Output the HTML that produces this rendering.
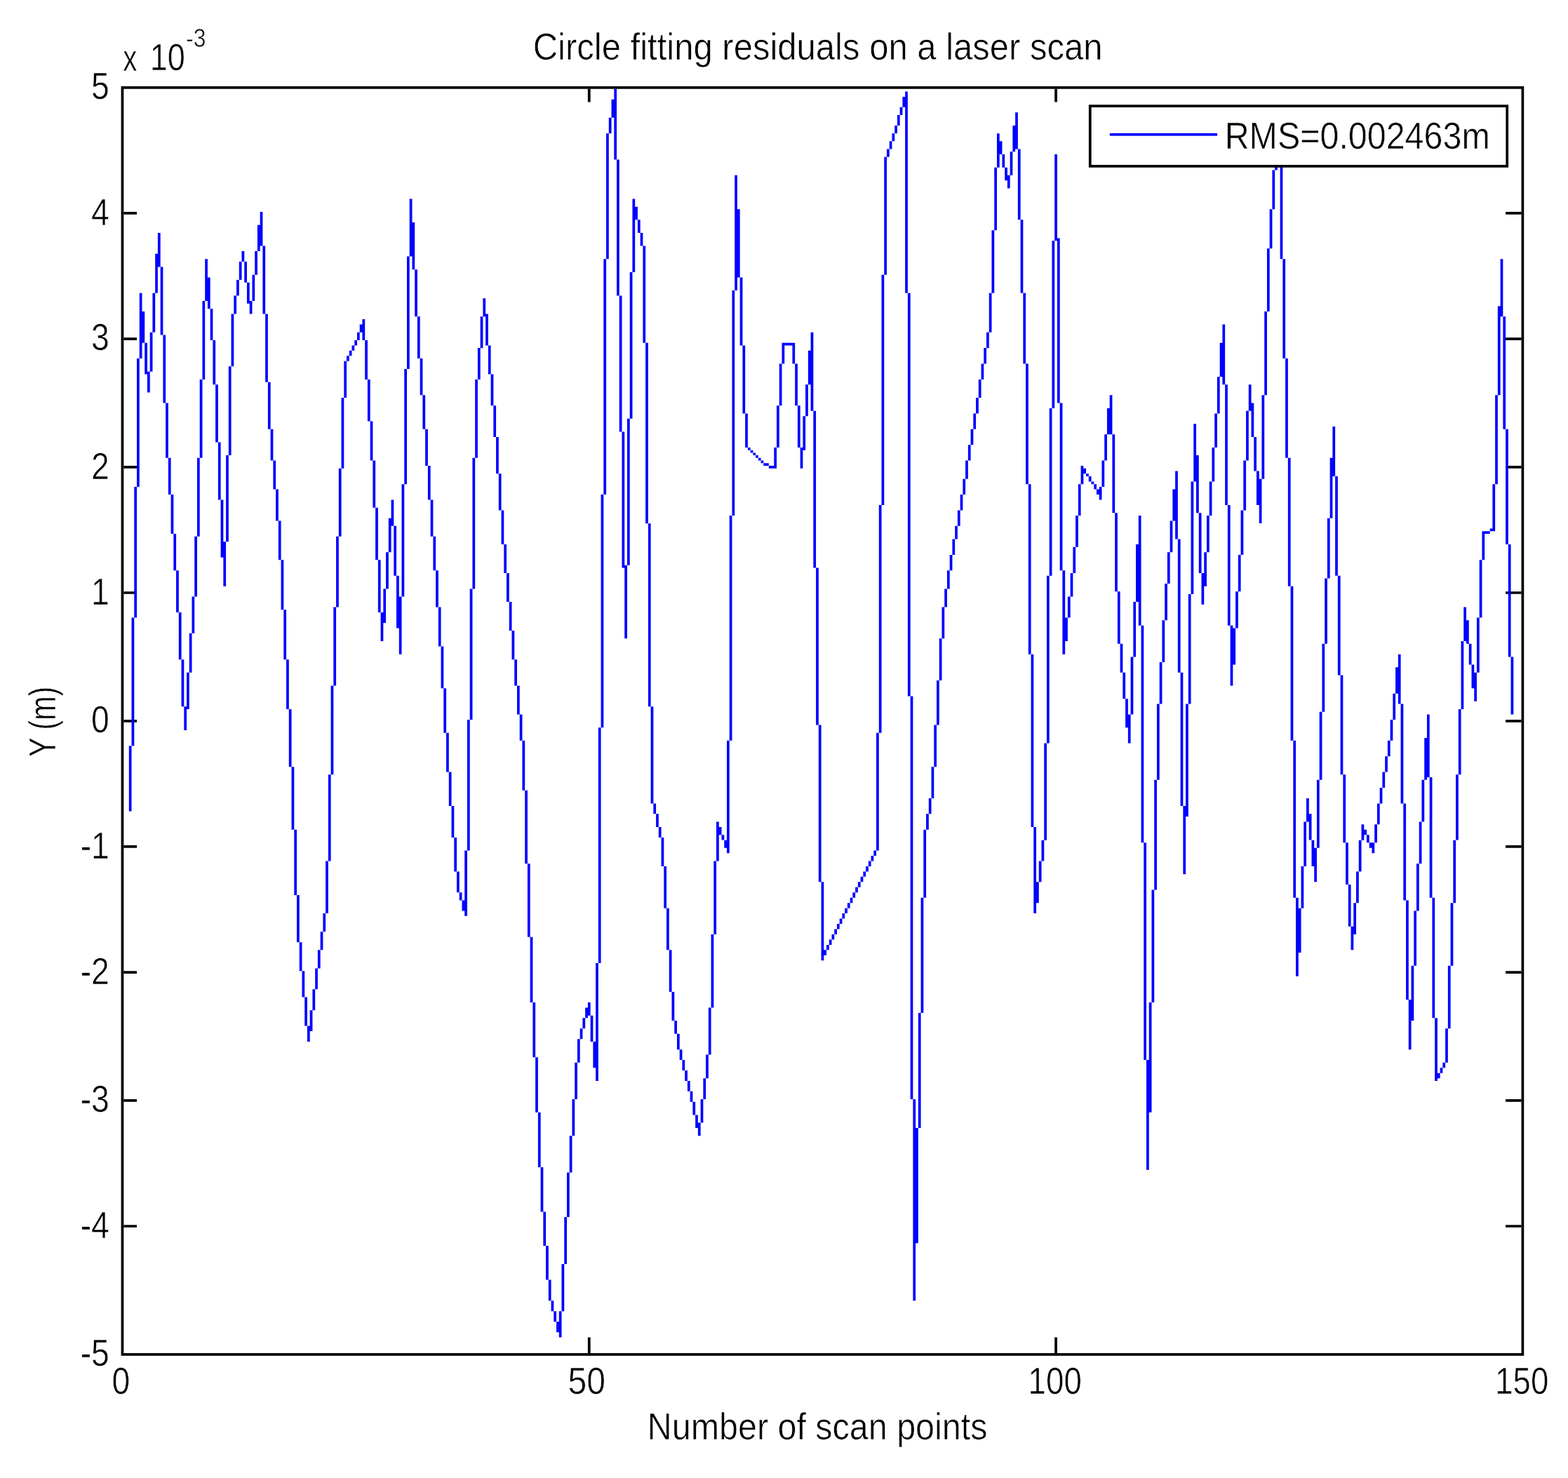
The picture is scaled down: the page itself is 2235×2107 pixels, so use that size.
<!DOCTYPE html>
<html lang="en">
<head>
<meta charset="utf-8">
<title>Circle fitting residuals on a laser scan</title>
<style>
html,body{margin:0;padding:0;background:#fff;}
body{width:2235px;height:2107px;overflow:hidden;}
svg{display:block;}
text{font-family:"Liberation Sans", sans-serif;fill:#000;stroke:#fff;stroke-width:0.6px;paint-order:fill stroke;}
</style>
</head>
<body>
<svg width="2235" height="2107" viewBox="0 0 2235 2107">
<rect width="2235" height="2107" fill="#fff"/>
<g id="plot">
<g id="axes" fill="#000">
<path fill-rule="evenodd" d="M172.58 122.98H2172.25V1932.71H172.58ZM176.32 126.72V1928.98H2168.51V126.72Z"/>
<path d="M837.89 126.72h3.74v18.66h-3.74zM837.89 1906.59h3.74v22.39h-3.74zM1503.2 126.72h3.74v18.66h-3.74zM1503.2 1906.59h3.74v22.39h-3.74zM176.32 302.09h18.69v3.73h-18.69zM2146.09 302.09h22.43v3.73h-22.43zM176.32 481.2h18.69v3.73h-18.69zM2146.09 481.2h22.43v3.73h-22.43zM176.32 664.04h18.69v3.73h-18.69zM2146.09 664.04h22.43v3.73h-22.43zM176.32 843.14h18.69v3.73h-18.69zM2146.09 843.14h22.43v3.73h-22.43zM176.32 1025.98h18.69v3.73h-18.69zM2146.09 1025.98h22.43v3.73h-22.43zM176.32 1205.09h18.69v3.73h-18.69zM2146.09 1205.09h22.43v3.73h-22.43zM176.32 1384.2h18.69v3.73h-18.69zM2146.09 1384.2h22.43v3.73h-22.43zM176.32 1567.04h18.69v3.73h-18.69zM2146.09 1567.04h22.43v3.73h-22.43zM176.32 1746.14h18.69v3.73h-18.69zM2146.09 1746.14h22.43v3.73h-22.43z"/>
</g>
<g id="series" fill="#00f">
<path d="M875.27 126.72h3.74v100.75h-3.74zM1290.15 130.45h3.74v287.32h-3.74zM1286.42 137.91h3.74v14.93h-3.74zM871.53 141.64h3.74v26.12h-3.74zM1282.68 152.84h3.74v11.19h-3.74zM1820.91 156.57h3.74v70.9h-3.74zM1447.14 160.3h3.74v52.24h-3.74zM1278.94 164.03h3.74v14.93h-3.74zM867.79 167.76h3.74v22.39h-3.74zM1275.2 178.96h3.74v11.19h-3.74zM1443.4 178.96h3.74v37.31h-3.74zM1817.17 186.42h3.74v55.97h-3.74zM1271.46 190.15h3.74v11.19h-3.74zM1420.97 190.15h3.74v48.51h-3.74zM864.06 190.15h3.74v179.11h-3.74zM1267.73 201.34h3.74v11.19h-3.74zM1424.71 201.34h3.74v18.66h-3.74zM1263.99 212.54h3.74v11.19h-3.74zM1450.87 212.54h3.74v100.75h-3.74zM1439.66 216.27h3.74v33.58h-3.74zM1428.45 220h3.74v18.66h-3.74zM1503.2 220h3.74v123.14h-3.74zM1260.25 223.73h3.74v167.91h-3.74zM1824.64 227.46h3.74v141.79h-3.74zM879.01 227.46h3.74v194.03h-3.74zM1432.19 238.66h3.74v18.66h-3.74zM1417.24 238.66h3.74v89.55h-3.74zM1813.43 242.39h3.74v55.97h-3.74zM1435.92 249.85h3.74v18.66h-3.74zM1047.2 249.85h3.74v164.18h-3.74zM583.73 283.43h3.74v82.09h-3.74zM901.43 283.43h3.74v104.48h-3.74zM905.17 294.63h3.74v18.66h-3.74zM1809.69 298.36h3.74v55.97h-3.74zM1050.94 298.36h3.74v97.02h-3.74zM370.68 302.09h3.74v48.51h-3.74zM908.91 313.29h3.74v18.66h-3.74zM1454.61 313.29h3.74v104.48h-3.74zM587.47 317.02h3.74v67.17h-3.74zM366.94 320.75h3.74v37.31h-3.74zM1413.5 328.21h3.74v89.55h-3.74zM912.65 331.94h3.74v18.66h-3.74zM224.91 331.94h3.74v48.51h-3.74zM1506.94 339.41h3.74v235.08h-3.74zM1499.46 343.14h3.74v238.81h-3.74zM374.42 350.6h3.74v97.02h-3.74zM916.38 350.6h3.74v138.06h-3.74zM1805.96 354.33h3.74v89.55h-3.74zM344.52 358.06h3.74v14.93h-3.74zM363.2 358.06h3.74v33.58h-3.74zM221.17 361.79h3.74v55.97h-3.74zM579.99 365.53h3.74v160.45h-3.74zM292.19 369.26h3.74v59.7h-3.74zM2138.61 369.26h3.74v82.09h-3.74zM1828.38 369.26h3.74v141.79h-3.74zM860.32 369.26h3.74v335.83h-3.74zM340.78 372.99h3.74v26.12h-3.74zM348.25 372.99h3.74v29.85h-3.74zM228.65 380.45h3.74v97.02h-3.74zM591.2 384.18h3.74v67.17h-3.74zM897.69 387.91h3.74v208.96h-3.74zM359.47 391.65h3.74v37.31h-3.74zM1256.51 391.65h3.74v328.36h-3.74zM295.93 395.38h3.74v44.78h-3.74zM1054.68 395.38h3.74v97.02h-3.74zM337.04 399.11h3.74v22.39h-3.74zM351.99 402.84h3.74v29.85h-3.74zM1043.47 414.03h3.74v320.9h-3.74zM217.43 417.76h3.74v55.97h-3.74zM1409.76 417.76h3.74v55.97h-3.74zM198.75 417.76h3.74v93.28h-3.74zM1458.35 417.76h3.74v100.75h-3.74zM1293.89 417.76h3.74v574.64h-3.74zM333.3 421.5h3.74v26.12h-3.74zM882.74 421.5h3.74v194.03h-3.74zM688.38 425.23h3.74v26.12h-3.74zM355.73 428.96h3.74v18.66h-3.74zM288.45 428.96h3.74v111.94h-3.74zM2134.87 436.42h3.74v126.87h-3.74zM299.66 440.15h3.74v44.78h-3.74zM202.48 443.88h3.74v44.78h-3.74zM1802.22 443.88h3.74v119.4h-3.74zM692.12 447.62h3.74v44.78h-3.74zM329.56 447.62h3.74v74.63h-3.74zM378.15 447.62h3.74v97.02h-3.74zM684.65 451.35h3.74v44.78h-3.74zM594.94 451.35h3.74v59.7h-3.74zM2142.35 451.35h3.74v160.45h-3.74zM516.45 455.08h3.74v29.85h-3.74zM512.71 462.54h3.74v11.19h-3.74zM1742.42 462.54h3.74v85.82h-3.74zM508.97 473.74h3.74v11.19h-3.74zM1406.02 473.74h3.74v22.39h-3.74zM213.7 473.74h3.74v55.97h-3.74zM1155.6 473.74h3.74v111.94h-3.74zM232.38 477.47h3.74v97.02h-3.74zM505.24 484.93h3.74v7.46h-3.74zM520.19 484.93h3.74v55.97h-3.74zM303.4 484.93h3.74v63.43h-3.74zM1118.22 488.66h11.21v3.73h-11.21zM1114.48 488.66h3.74v29.85h-3.74zM1129.43 488.66h3.74v29.85h-3.74zM206.22 488.66h3.74v44.78h-3.74zM1738.68 488.66h3.74v48.51h-3.74zM920.12 488.66h3.74v257.47h-3.74zM501.5 492.39h3.74v7.46h-3.74zM695.86 492.39h3.74v41.05h-3.74zM1058.42 492.39h3.74v97.02h-3.74zM1402.28 496.12h3.74v22.39h-3.74zM680.91 496.12h3.74v44.78h-3.74zM497.76 499.86h3.74v7.46h-3.74zM1151.86 499.86h3.74v48.51h-3.74zM494.02 507.32h3.74v7.46h-3.74zM598.68 511.05h3.74v52.24h-3.74zM1832.12 511.05h3.74v141.79h-3.74zM195.01 511.05h3.74v182.84h-3.74zM490.29 514.78h3.74v52.24h-3.74zM1398.55 518.51h3.74v22.39h-3.74zM1110.74 518.51h3.74v59.7h-3.74zM1133.17 518.51h3.74v59.7h-3.74zM1462.09 518.51h3.74v171.64h-3.74zM325.83 522.24h3.74v126.87h-3.74zM576.25 525.98h3.74v164.18h-3.74zM209.96 529.71h3.74v29.85h-3.74zM699.6 533.44h3.74v44.78h-3.74zM1734.94 537.17h3.74v52.24h-3.74zM1394.81 540.9h3.74v26.12h-3.74zM523.92 540.9h3.74v59.7h-3.74zM284.71 540.9h3.74v111.94h-3.74zM677.17 540.9h3.74v111.94h-3.74zM381.89 544.63h3.74v67.17h-3.74zM1779.79 548.36h3.74v37.31h-3.74zM1148.12 548.36h3.74v44.78h-3.74zM307.14 548.36h3.74v82.09h-3.74zM1746.15 548.36h3.74v171.64h-3.74zM602.42 563.29h3.74v48.51h-3.74zM1581.69 563.29h3.74v55.97h-3.74zM1798.48 563.29h3.74v119.4h-3.74zM2131.14 563.29h3.74v126.87h-3.74zM1391.07 567.02h3.74v22.39h-3.74zM486.55 567.02h3.74v100.75h-3.74zM1783.53 574.48h3.74v48.51h-3.74zM236.12 574.48h3.74v78.36h-3.74zM1510.68 574.48h3.74v238.81h-3.74zM703.33 578.22h3.74v44.78h-3.74zM1107.01 578.22h3.74v59.7h-3.74zM1136.91 578.22h3.74v59.7h-3.74zM1577.96 581.95h3.74v37.31h-3.74zM1495.73 581.95h3.74v238.81h-3.74zM1776.05 585.68h3.74v70.9h-3.74zM1159.33 585.68h3.74v223.88h-3.74zM1387.33 589.41h3.74v22.39h-3.74zM1062.15 589.41h3.74v48.51h-3.74zM1731.2 589.41h3.74v48.51h-3.74zM1144.38 593.14h3.74v48.51h-3.74zM893.96 596.87h3.74v208.96h-3.74zM527.66 600.6h3.74v55.97h-3.74zM1701.3 604.33h3.74v82.09h-3.74zM1899.4 608.07h3.74v70.9h-3.74zM1383.6 611.8h3.74v22.39h-3.74zM385.63 611.8h3.74v44.78h-3.74zM606.15 611.8h3.74v52.24h-3.74zM2146.09 611.8h3.74v164.18h-3.74zM886.48 615.53h3.74v194.03h-3.74zM1574.22 619.26h3.74v37.31h-3.74zM1585.43 619.26h3.74v111.94h-3.74zM1787.27 622.99h3.74v48.51h-3.74zM707.07 622.99h3.74v52.24h-3.74zM310.88 630.45h3.74v82.09h-3.74zM1379.86 634.19h3.74v22.39h-3.74zM1065.89 637.92h3.74v3.73h-3.74zM1103.27 637.92h3.74v29.85h-3.74zM1140.65 637.92h3.74v29.85h-3.74zM1727.46 637.92h3.74v48.51h-3.74zM1069.63 641.65h3.74v3.73h-3.74zM1073.37 645.38h3.74v3.73h-3.74zM1077.1 649.11h3.74v3.73h-3.74zM1705.04 649.11h3.74v82.09h-3.74zM322.09 649.11h3.74v123.14h-3.74zM1080.84 652.84h3.74v3.73h-3.74zM239.86 652.84h3.74v52.24h-3.74zM1895.66 652.84h3.74v85.82h-3.74zM280.97 652.84h3.74v111.94h-3.74zM1835.86 652.84h3.74v182.84h-3.74zM673.43 652.84h3.74v186.57h-3.74zM1084.58 656.57h3.74v3.73h-3.74zM1376.12 656.57h3.74v26.12h-3.74zM1570.48 656.57h3.74v37.31h-3.74zM389.37 656.57h3.74v41.05h-3.74zM531.4 656.57h3.74v67.17h-3.74zM1772.32 656.57h3.74v70.9h-3.74zM1088.32 660.31h7.48v3.73h-7.48zM1095.79 664.04h7.48v3.73h-7.48zM1540.58 664.04h3.74v26.12h-3.74zM609.89 664.04h3.74v48.51h-3.74zM1544.32 667.77h3.74v7.46h-3.74zM482.81 667.77h3.74v97.02h-3.74zM1791.01 671.5h3.74v48.51h-3.74zM1675.14 671.5h3.74v97.02h-3.74zM1548.05 675.23h3.74v3.73h-3.74zM710.81 675.23h3.74v52.24h-3.74zM1551.79 678.96h3.74v7.46h-3.74zM1903.14 678.96h3.74v141.79h-3.74zM1372.38 682.69h3.74v22.39h-3.74zM1794.74 682.69h3.74v63.43h-3.74zM1555.53 686.43h3.74v3.73h-3.74zM1723.73 686.43h3.74v48.51h-3.74zM1697.56 686.43h3.74v160.45h-3.74zM1559.27 690.16h3.74v7.46h-3.74zM1536.84 690.16h3.74v44.78h-3.74zM2127.4 690.16h3.74v67.17h-3.74zM572.52 690.16h3.74v160.45h-3.74zM1465.83 690.16h3.74v242.54h-3.74zM1566.74 693.89h3.74v18.66h-3.74zM191.27 693.89h3.74v186.57h-3.74zM1563.01 697.62h3.74v7.46h-3.74zM393.11 697.62h3.74v44.78h-3.74zM1671.4 697.62h3.74v44.78h-3.74zM1368.65 705.08h3.74v22.39h-3.74zM243.6 705.08h3.74v55.97h-3.74zM856.58 705.08h3.74v332.09h-3.74zM557.56 712.55h3.74v37.31h-3.74zM613.63 712.55h3.74v52.24h-3.74zM314.61 712.55h3.74v82.09h-3.74zM1749.89 720.01h3.74v171.64h-3.74zM1252.78 720.01h3.74v324.63h-3.74zM535.14 723.74h3.74v74.63h-3.74zM1364.91 727.47h3.74v22.39h-3.74zM714.55 727.47h3.74v48.51h-3.74zM1768.58 727.47h3.74v63.43h-3.74zM1708.78 731.2h3.74v85.82h-3.74zM1589.17 731.2h3.74v111.94h-3.74zM1533.1 734.93h3.74v44.78h-3.74zM1719.99 734.93h3.74v52.24h-3.74zM1622.81 734.93h3.74v156.72h-3.74zM1039.73 734.93h3.74v320.9h-3.74zM553.83 738.67h3.74v48.51h-3.74zM1891.92 738.67h3.74v85.82h-3.74zM1667.66 742.4h3.74v44.78h-3.74zM396.84 742.4h3.74v55.97h-3.74zM923.86 746.13h3.74v261.2h-3.74zM1361.17 749.86h3.74v18.66h-3.74zM561.3 749.86h3.74v70.9h-3.74zM2123.66 753.59h3.74v3.73h-3.74zM2116.19 757.32h7.48v3.73h-7.48zM2112.45 757.32h3.74v41.05h-3.74zM247.34 761.05h3.74v52.24h-3.74zM617.37 764.79h3.74v48.51h-3.74zM277.24 764.79h3.74v85.82h-3.74zM479.07 764.79h3.74v100.75h-3.74zM1357.43 768.52h3.74v22.39h-3.74zM1678.87 768.52h3.74v190.3h-3.74zM318.35 772.25h3.74v63.43h-3.74zM718.29 775.98h3.74v41.05h-3.74zM1619.07 775.98h3.74v82.09h-3.74zM2149.82 775.98h3.74v160.45h-3.74zM1529.37 779.71h3.74v37.31h-3.74zM1663.92 787.17h3.74v44.78h-3.74zM1716.25 787.17h3.74v48.51h-3.74zM550.09 787.17h3.74v52.24h-3.74zM1353.69 790.9h3.74v22.39h-3.74zM1764.84 790.9h3.74v52.24h-3.74zM400.58 798.37h3.74v70.9h-3.74zM538.88 798.37h3.74v74.63h-3.74zM2108.71 798.37h3.74v82.09h-3.74zM890.22 805.83h3.74v104.48h-3.74zM1163.07 809.56h3.74v223.88h-3.74zM1349.96 813.29h3.74v26.12h-3.74zM621.11 813.29h3.74v52.24h-3.74zM251.07 813.29h3.74v59.7h-3.74zM1514.42 813.29h3.74v119.4h-3.74zM1525.63 817.02h3.74v33.58h-3.74zM722.02 817.02h3.74v41.05h-3.74zM1712.51 817.02h3.74v44.78h-3.74zM565.04 820.76h3.74v74.63h-3.74zM1906.87 820.76h3.74v141.79h-3.74zM1491.99 820.76h3.74v238.81h-3.74zM1888.19 824.49h3.74v93.28h-3.74zM1660.19 831.95h3.74v52.24h-3.74zM1839.6 835.68h3.74v220.15h-3.74zM1346.22 839.41h3.74v26.12h-3.74zM546.35 839.41h3.74v48.51h-3.74zM669.7 839.41h3.74v186.57h-3.74zM1761.1 843.14h3.74v52.24h-3.74zM1592.91 843.14h3.74v74.63h-3.74zM1693.83 846.88h3.74v156.72h-3.74zM1521.89 850.61h3.74v29.85h-3.74zM273.5 850.61h3.74v52.24h-3.74zM568.78 850.61h3.74v82.09h-3.74zM725.76 858.07h3.74v41.05h-3.74zM1615.33 858.07h3.74v78.36h-3.74zM1342.48 865.53h3.74v44.78h-3.74zM2086.28 865.53h3.74v48.51h-3.74zM624.84 865.53h3.74v55.97h-3.74zM475.33 865.53h3.74v111.94h-3.74zM404.32 869.26h3.74v70.9h-3.74zM542.61 873h3.74v41.05h-3.74zM254.81 873h3.74v67.17h-3.74zM1518.15 880.46h3.74v33.58h-3.74zM2104.97 880.46h3.74v78.36h-3.74zM187.53 880.46h3.74v182.84h-3.74zM2090.02 884.19h3.74v33.58h-3.74zM1656.45 884.19h3.74v59.7h-3.74zM1753.63 891.65h3.74v85.82h-3.74zM1626.55 891.65h3.74v309.71h-3.74zM1757.37 895.38h3.74v52.24h-3.74zM729.5 899.12h3.74v41.05h-3.74zM269.76 902.85h3.74v55.97h-3.74zM1338.74 910.31h3.74v59.7h-3.74zM2082.55 914.04h3.74v97.02h-3.74zM2093.76 917.77h3.74v29.85h-3.74zM1596.64 917.77h3.74v41.05h-3.74zM1884.45 917.77h3.74v97.02h-3.74zM628.58 921.5h3.74v59.7h-3.74zM1992.84 932.7h3.74v70.9h-3.74zM1469.56 932.7h3.74v246.27h-3.74zM1611.6 936.43h3.74v82.09h-3.74zM2153.56 936.43h3.74v82.09h-3.74zM733.24 940.16h3.74v37.31h-3.74zM258.55 940.16h3.74v67.17h-3.74zM408.06 940.16h3.74v70.9h-3.74zM1652.71 943.89h3.74v59.7h-3.74zM2097.5 947.62h3.74v33.58h-3.74zM1989.1 951.36h3.74v37.31h-3.74zM1600.38 958.82h3.74v37.31h-3.74zM2101.23 958.82h3.74v41.05h-3.74zM266.02 958.82h3.74v52.24h-3.74zM1682.61 958.82h3.74v190.3h-3.74zM1910.61 962.55h3.74v141.79h-3.74zM1335.01 970.01h3.74v63.43h-3.74zM736.97 977.47h3.74v41.05h-3.74zM471.6 977.47h3.74v126.87h-3.74zM632.32 981.21h3.74v63.43h-3.74zM1985.37 988.67h3.74v37.31h-3.74zM1297.63 992.4h3.74v574.64h-3.74zM1604.12 996.13h3.74v41.05h-3.74zM1648.97 1003.59h3.74v108.21h-3.74zM1996.58 1003.59h3.74v141.79h-3.74zM1690.09 1003.59h3.74v160.45h-3.74zM262.29 1007.33h3.74v33.58h-3.74zM927.6 1007.33h3.74v138.06h-3.74zM411.79 1011.06h3.74v82.09h-3.74zM2078.81 1011.06h3.74v93.28h-3.74zM1880.71 1014.79h3.74v97.02h-3.74zM740.71 1018.52h3.74v37.31h-3.74zM1607.86 1018.52h3.74v41.05h-3.74zM2033.96 1018.52h3.74v89.55h-3.74zM1981.63 1025.98h3.74v29.85h-3.74zM665.96 1025.98h3.74v186.57h-3.74zM1331.27 1033.45h3.74v59.7h-3.74zM1166.81 1033.45h3.74v223.88h-3.74zM852.84 1037.18h3.74v335.83h-3.74zM636.06 1044.64h3.74v55.97h-3.74zM1249.04 1044.64h3.74v167.91h-3.74zM2030.22 1052.1h3.74v59.7h-3.74zM1977.89 1055.83h3.74v22.39h-3.74zM744.45 1055.83h3.74v70.9h-3.74zM1035.99 1055.83h3.74v160.45h-3.74zM1843.33 1055.83h3.74v223.88h-3.74zM1488.25 1059.57h3.74v138.06h-3.74zM183.79 1063.3h3.74v93.28h-3.74zM1974.15 1078.22h3.74v22.39h-3.74zM1327.53 1093.15h3.74v44.78h-3.74zM415.53 1093.15h3.74v89.55h-3.74zM1970.41 1100.61h3.74v22.39h-3.74zM639.79 1100.61h3.74v48.51h-3.74zM2075.07 1104.34h3.74v93.28h-3.74zM1914.35 1104.34h3.74v97.02h-3.74zM467.86 1104.34h3.74v123.14h-3.74zM2037.69 1108.07h3.74v171.64h-3.74zM2026.48 1111.81h3.74v59.7h-3.74zM1876.97 1111.81h3.74v97.02h-3.74zM1645.23 1111.81h3.74v156.72h-3.74zM1966.68 1123h3.74v22.39h-3.74zM748.19 1126.73h3.74v104.48h-3.74zM1323.79 1137.93h3.74v22.39h-3.74zM1862.02 1137.93h3.74v33.58h-3.74zM931.33 1145.39h3.74v14.93h-3.74zM1962.94 1145.39h3.74v29.85h-3.74zM2000.32 1145.39h3.74v138.06h-3.74zM643.53 1149.12h3.74v44.78h-3.74zM1686.35 1149.12h3.74v97.02h-3.74zM935.07 1160.31h3.74v18.66h-3.74zM1320.06 1160.31h3.74v22.39h-3.74zM1865.76 1160.31h3.74v37.31h-3.74zM1021.04 1171.51h3.74v55.97h-3.74zM2022.74 1171.51h3.74v59.7h-3.74zM1858.28 1171.51h3.74v63.43h-3.74zM1940.51 1175.24h3.74v22.39h-3.74zM1959.2 1175.24h3.74v26.12h-3.74zM1024.78 1178.97h3.74v11.19h-3.74zM938.81 1178.97h3.74v14.93h-3.74zM1473.3 1178.97h3.74v123.14h-3.74zM1944.25 1182.7h3.74v7.46h-3.74zM419.27 1182.7h3.74v93.28h-3.74zM1316.32 1182.7h3.74v97.02h-3.74zM1028.51 1190.16h3.74v7.46h-3.74zM1947.99 1190.16h3.74v11.19h-3.74zM942.55 1193.9h3.74v41.05h-3.74zM647.27 1193.9h3.74v48.51h-3.74zM1032.25 1197.63h3.74v11.19h-3.74zM1484.51 1197.63h3.74v29.85h-3.74zM1869.5 1197.63h3.74v37.31h-3.74zM1936.78 1197.63h3.74v44.78h-3.74zM2071.33 1197.63h3.74v89.55h-3.74zM1951.73 1201.36h3.74v7.46h-3.74zM1955.46 1201.36h3.74v14.93h-3.74zM1918.09 1201.36h3.74v59.7h-3.74zM1630.28 1201.36h3.74v309.71h-3.74zM1873.23 1208.82h3.74v48.51h-3.74zM1245.3 1212.55h3.74v7.46h-3.74zM662.22 1212.55h3.74v93.28h-3.74zM1241.56 1220.02h3.74v7.46h-3.74zM1237.83 1227.48h3.74v7.46h-3.74zM1480.78 1227.48h3.74v29.85h-3.74zM464.12 1227.48h3.74v74.63h-3.74zM1017.3 1227.48h3.74v104.48h-3.74zM2019 1231.21h3.74v67.17h-3.74zM751.92 1231.21h3.74v104.48h-3.74zM1234.09 1234.94h3.74v7.46h-3.74zM946.29 1234.94h3.74v59.7h-3.74zM1854.55 1234.94h3.74v59.7h-3.74zM1230.35 1242.4h3.74v7.46h-3.74zM651.01 1242.4h3.74v29.85h-3.74zM1933.04 1242.4h3.74v44.78h-3.74zM1226.61 1249.87h3.74v7.46h-3.74zM1222.87 1257.33h3.74v7.46h-3.74zM1477.04 1257.33h3.74v29.85h-3.74zM1170.55 1257.33h3.74v111.94h-3.74zM1921.82 1261.06h3.74v59.7h-3.74zM1219.14 1264.79h3.74v7.46h-3.74zM1641.5 1268.52h3.74v160.45h-3.74zM1215.4 1272.26h3.74v7.46h-3.74zM654.74 1272.26h3.74v11.19h-3.74zM423.01 1275.99h3.74v67.17h-3.74zM1211.66 1279.72h3.74v7.46h-3.74zM1847.07 1279.72h3.74v111.94h-3.74zM1312.58 1279.72h3.74v164.18h-3.74zM2041.43 1279.72h3.74v171.64h-3.74zM658.48 1283.45h3.74v14.93h-3.74zM2004.05 1283.45h3.74v141.79h-3.74zM1207.92 1287.18h3.74v7.46h-3.74zM1929.3 1287.18h3.74v44.78h-3.74zM2067.6 1287.18h3.74v89.55h-3.74zM1204.19 1294.64h3.74v7.46h-3.74zM950.02 1294.64h3.74v59.7h-3.74zM1850.81 1294.64h3.74v63.43h-3.74zM2015.27 1298.38h3.74v78.36h-3.74zM1200.45 1302.11h3.74v7.46h-3.74zM460.38 1302.11h3.74v26.12h-3.74zM1196.71 1309.57h3.74v7.46h-3.74zM1192.97 1317.03h3.74v7.46h-3.74zM1925.56 1320.76h3.74v33.58h-3.74zM1189.24 1324.5h3.74v7.46h-3.74zM456.65 1328.23h3.74v26.12h-3.74zM1185.5 1331.96h3.74v7.46h-3.74zM1013.56 1331.96h3.74v104.48h-3.74zM755.66 1335.69h3.74v93.28h-3.74zM1181.76 1339.42h3.74v7.46h-3.74zM426.74 1343.15h3.74v41.05h-3.74zM1178.02 1346.88h3.74v7.46h-3.74zM1174.28 1354.35h3.74v7.46h-3.74zM452.91 1354.35h3.74v26.12h-3.74zM953.76 1354.35h3.74v59.7h-3.74zM849.1 1373h3.74v167.91h-3.74zM2011.53 1376.73h3.74v78.36h-3.74zM2063.86 1376.73h3.74v89.55h-3.74zM449.17 1380.47h3.74v29.85h-3.74zM430.48 1384.2h3.74v37.31h-3.74zM445.43 1410.32h3.74v29.85h-3.74zM957.5 1414.05h3.74v41.05h-3.74zM434.22 1421.51h3.74v41.05h-3.74zM2007.79 1425.24h3.74v70.9h-3.74zM837.89 1428.97h3.74v18.66h-3.74zM759.4 1428.97h3.74v78.36h-3.74zM1637.76 1428.97h3.74v156.72h-3.74zM834.15 1436.44h3.74v14.93h-3.74zM1009.83 1436.44h3.74v67.17h-3.74zM441.7 1440.17h3.74v29.85h-3.74zM1308.84 1443.9h3.74v164.18h-3.74zM841.63 1447.63h3.74v37.31h-3.74zM830.42 1451.36h3.74v14.93h-3.74zM2045.17 1451.36h3.74v89.55h-3.74zM961.24 1455.09h3.74v18.66h-3.74zM437.96 1462.56h3.74v22.39h-3.74zM826.68 1466.29h3.74v14.93h-3.74zM2060.12 1466.29h3.74v48.51h-3.74zM964.97 1473.75h3.74v22.39h-3.74zM822.94 1481.21h3.74v33.58h-3.74zM845.37 1484.95h3.74v37.31h-3.74zM968.71 1496.14h3.74v14.93h-3.74zM1006.09 1503.6h3.74v33.58h-3.74zM763.14 1507.33h3.74v78.36h-3.74zM972.45 1511.07h3.74v14.93h-3.74zM1634.02 1511.07h3.74v156.72h-3.74zM2056.38 1514.8h3.74v7.46h-3.74zM819.2 1514.8h3.74v52.24h-3.74zM2052.64 1522.26h3.74v7.46h-3.74zM976.19 1525.99h3.74v14.93h-3.74zM2048.91 1529.72h3.74v7.46h-3.74zM1002.35 1537.18h3.74v29.85h-3.74zM979.92 1540.92h3.74v14.93h-3.74zM983.66 1555.84h3.74v14.93h-3.74zM998.61 1567.04h3.74v33.58h-3.74zM815.47 1567.04h3.74v52.24h-3.74zM1301.37 1567.04h3.74v287.32h-3.74zM987.4 1570.77h3.74v18.66h-3.74zM766.88 1585.69h3.74v78.36h-3.74zM991.14 1589.42h3.74v18.66h-3.74zM994.88 1600.62h3.74v18.66h-3.74zM1305.1 1608.08h3.74v164.18h-3.74zM811.73 1619.28h3.74v52.24h-3.74zM770.61 1664.05h3.74v63.43h-3.74zM807.99 1671.52h3.74v63.43h-3.74zM774.35 1727.49h3.74v48.51h-3.74zM804.25 1734.95h3.74v67.17h-3.74zM778.09 1775.99h3.74v48.51h-3.74zM800.51 1802.11h3.74v67.17h-3.74zM781.83 1824.5h3.74v29.85h-3.74zM785.56 1854.35h3.74v14.93h-3.74zM789.3 1869.28h3.74v14.93h-3.74zM796.78 1869.28h3.74v37.31h-3.74zM793.04 1884.21h3.74v14.93h-3.74z"/>
</g>
<g id="legend">
<rect x="1553.77" y="151.17" width="594.46" height="85.76" fill="#fff" stroke="#000" stroke-width="3.74"/><rect x="1581.9" y="189.9" width="153.2" height="3.74" fill="#00f"/>
</g>
<g id="labels">
<text transform="translate(759.65 85.30) scale(0.9250 1)" font-size="53.0">Circle fitting residuals on a laser scan</text>
<text transform="translate(922.74 2052.00) scale(0.9143 1)" font-size="53.0">Number of scan points</text>
<text transform="translate(1745.65 211.70) scale(0.9135 1)" font-size="53.0">RMS=0.002463m</text>
<text transform="translate(159.45 1987.40) scale(0.8731 1)" font-size="53.0">0</text>
<text transform="translate(809.59 1987.40) scale(0.9073 1)" font-size="53.0">50</text>
<text transform="translate(1465.55 1987.40) scale(0.8627 1)" font-size="53.0">100</text>
<text transform="translate(2131.26 1987.40) scale(0.8602 1)" font-size="53.0">150</text>
<text transform="translate(175.34 100.80) scale(0.7600 1)" font-size="53.0">x</text>
<text transform="translate(213.80 99.80) scale(0.8509 1)" font-size="53.0">10</text>
<text transform="translate(265.05 67.10) scale(0.8484 1)" font-size="37.5">-3</text>
<text transform="translate(155.87 140.65) scale(0.8744 1)" text-anchor="end" font-size="53.0">5</text>
<text transform="translate(155.87 320.76) scale(0.8744 1)" text-anchor="end" font-size="53.0">4</text>
<text transform="translate(155.87 498.86) scale(0.8744 1)" text-anchor="end" font-size="53.0">3</text>
<text transform="translate(155.87 682.70) scale(0.8744 1)" text-anchor="end" font-size="53.0">2</text>
<text transform="translate(155.87 861.81) scale(0.8744 1)" text-anchor="end" font-size="53.0">1</text>
<text transform="translate(155.87 1043.65) scale(0.8744 1)" text-anchor="end" font-size="53.0">0</text>
<text transform="translate(155.87 1223.76) scale(0.8744 1)" text-anchor="end" font-size="53.0">-1</text>
<text transform="translate(155.87 1402.86) scale(0.8744 1)" text-anchor="end" font-size="53.0">-2</text>
<text transform="translate(155.87 1584.70) scale(0.8744 1)" text-anchor="end" font-size="53.0">-3</text>
<text transform="translate(155.87 1764.81) scale(0.8744 1)" text-anchor="end" font-size="53.0">-4</text>
<text transform="translate(155.87 1946.65) scale(0.8744 1)" text-anchor="end" font-size="53.0">-5</text>
<text transform="translate(79.40 1078.88) rotate(-90) scale(0.7792 1)" font-size="53.0">Y (m)</text>
</g>
</g>
</svg>
</body>
</html>
